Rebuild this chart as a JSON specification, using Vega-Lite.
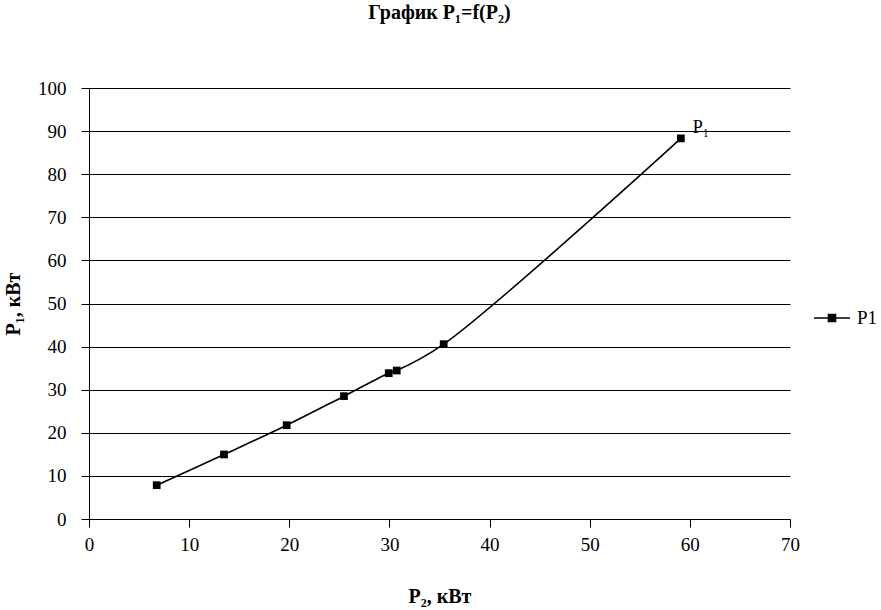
{
  "$schema": "https://vega.github.io/schema/vega-lite/v6.json",
  "width": 701,
  "height": 431,
  "autosize": {"type": "none"},
  "padding": {"left": 89, "top": 88, "right": 91, "bottom": 91},
  "background": "white",
  "config": {
    "font": "Times New Roman",
    "view": {"stroke": null},
    "legend": {"labelFont": "Times New Roman"},
    "axis": {
      "labelFont": "Times New Roman",
      "titleFont": "Times New Roman",
      "labelColor": "black",
      "titleColor": "black",
      "domainColor": "black",
      "tickColor": "black",
      "gridColor": "black",
      "gridOpacity": 1,
      "labelFontSize": 19,
      "titleFontSize": 20,
      "titleFontWeight": "bold",
      "tickSize": 8,
      "domainWidth": 1,
      "tickWidth": 1,
      "gridWidth": 1,
      "labelFlush": false
    }
  },
  "title": {
    "text": "График P₁=f(P₂)",
    "font": "Times New Roman",
    "fontSize": 20,
    "fontWeight": "bold",
    "color": "black",
    "anchor": "middle",
    "offset": 56
  },
  "data": {
    "values": [
      {"P2": 6.76, "P1": 7.84, "series": "P1"},
      {"P2": 13.48, "P1": 14.97, "series": "P1"},
      {"P2": 19.74, "P1": 21.76, "series": "P1"},
      {"P2": 25.46, "P1": 28.5, "series": "P1"},
      {"P2": 29.93, "P1": 33.83, "series": "P1"},
      {"P2": 30.73, "P1": 34.45, "series": "P1"},
      {"P2": 35.42, "P1": 40.56, "series": "P1"},
      {"P2": 59.1, "P1": 88.3, "series": "P1"}
    ]
  },
  "encoding": {
    "x": {
      "field": "P2",
      "type": "quantitative",
      "scale": {"domain": [0, 70], "nice": false},
      "axis": {
        "title": "P₂, кВт",
        "values": [0, 10, 20, 30, 40, 50, 60, 70],
        "grid": false,
        "labelPadding": 8,
        "titlePadding": 32
      }
    },
    "y": {
      "field": "P1",
      "type": "quantitative",
      "scale": {"domain": [0, 100], "nice": false},
      "axis": {
        "title": "P₁, кВт",
        "values": [0, 10, 20, 30, 40, 50, 60, 70, 80, 90, 100],
        "grid": true,
        "labelPadding": 15,
        "titlePadding": 14
      }
    }
  },
  "layer": [
    {
      "mark": {"type": "line", "interpolate": "catmull-rom", "color": "black", "strokeWidth": 1.6},
      "encoding": {
        "color": {
          "field": "series",
          "type": "nominal",
          "scale": {"range": ["black"]},
          "legend": {
            "title": null,
            "orient": "none",
            "legendX": 724,
            "legendY": 211,
            "symbolType": "M-1,0H1M-0.2,-0.2H0.2V0.2H-0.2Z",
            "symbolSize": 1296,
            "symbolFillColor": "black",
            "symbolStrokeColor": "black",
            "symbolStrokeWidth": 1.5,
            "labelFont": "Times New Roman",
            "labelFontSize": 19,
            "labelColor": "black",
            "labelOffset": 6
          }
        }
      }
    },
    {
      "mark": {"type": "point", "shape": "square", "filled": true, "color": "black", "opacity": 1, "size": 60}
    },
    {
      "transform": [{"filter": "datum.P2 > 50"}],
      "mark": {"type": "text", "text": "P₁", "align": "left", "baseline": "middle", "dx": 12, "dy": -10, "fontSize": 18, "font": "Times New Roman", "color": "black"}
    }
  ]
}
